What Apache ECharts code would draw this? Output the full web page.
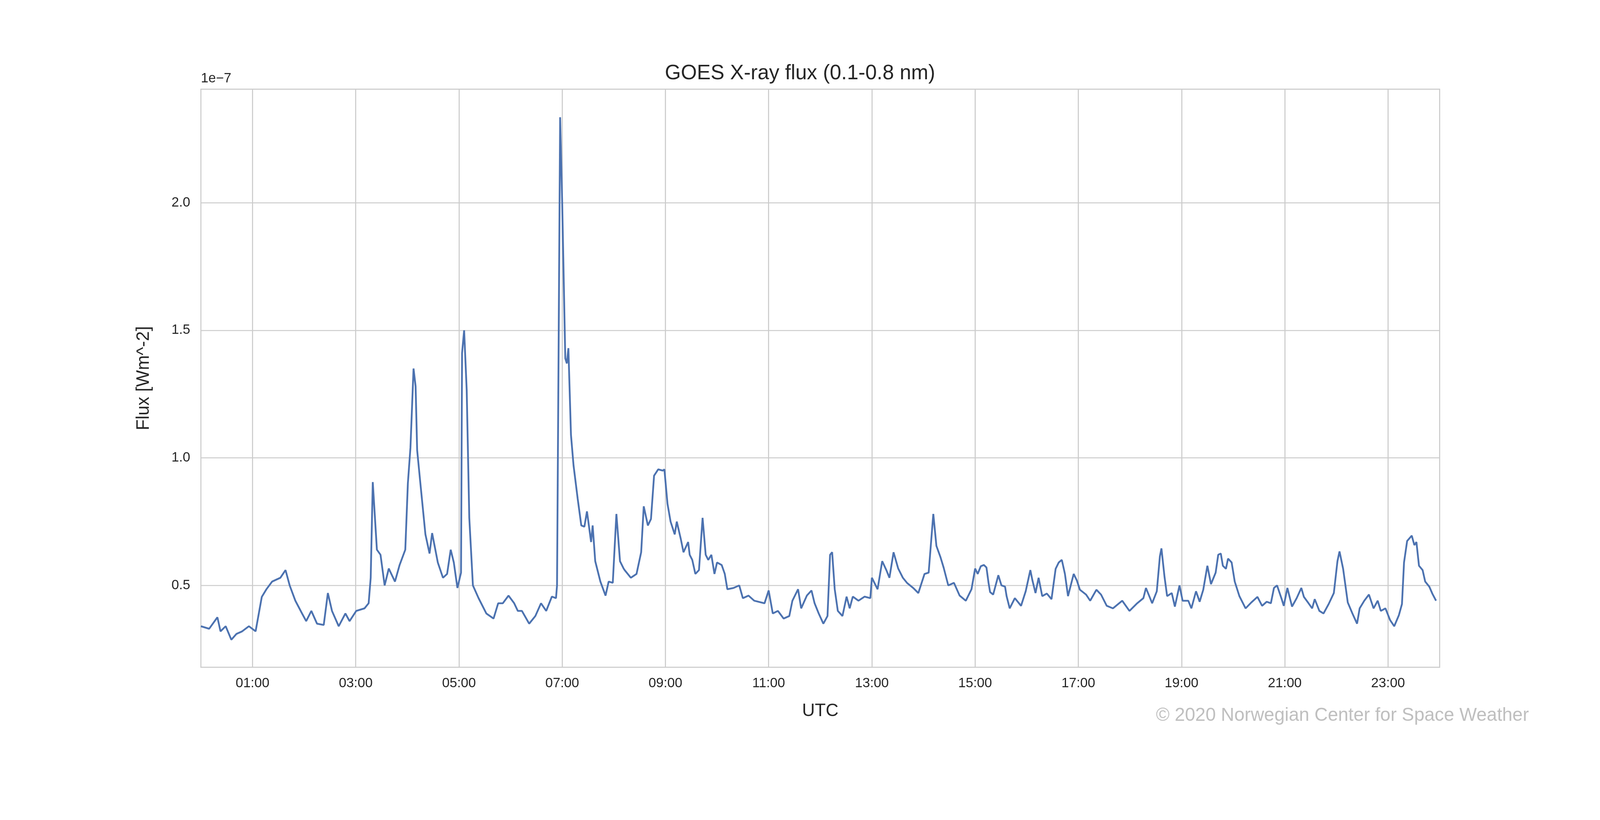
<!DOCTYPE html>
<html><head><meta charset="utf-8">
<script src="https://cdn.jsdelivr.net/npm/echarts@6/dist/echarts.min.js"></script>
<style>html,body{margin:0;padding:0;background:#fff;overflow:hidden}#c{width:4500px;height:2100px}</style>
</head><body><div id="c"></div>
<script>
// Time in hours UTC
const times = [0,0.16,0.32,0.38,0.48,0.59,0.69,0.8,0.93,1.06,1.14,1.18,1.27,1.38,1.54,1.64,1.72,1.83,1.96,2.04,2.14,2.25,2.38,2.46,2.54,2.67,2.8,2.88,3.01,3.17,3.25,3.29,3.33,3.41,3.48,3.56,3.64,3.76,3.85,3.96,4.01,4.06,4.12,4.16,4.19,4.25,4.35,4.43,4.48,4.59,4.69,4.77,4.84,4.9,4.97,5.04,5.06,5.10,5.15,5.2,5.27,5.38,5.53,5.67,5.76,5.85,5.96,6.07,6.14,6.22,6.36,6.48,6.59,6.69,6.8,6.88,6.9,6.93,6.96,7.0,7.06,7.09,7.12,7.17,7.22,7.3,7.37,7.43,7.48,7.56,7.59,7.64,7.74,7.84,7.9,7.98,8.05,8.12,8.19,
8.21,8.33,8.44,8.53,8.58,8.66,8.72,8.78,8.86,8.95,8.98,9.04,9.1,9.18,9.22,9.3,9.35,9.44,9.47,9.52,9.58,9.65,9.72,9.78,9.83,9.89,9.95,10.0,10.09,10.15,10.2,10.32,10.43,10.5,10.61,10.72,10.92,11.0,11.08,11.18,11.29,11.4,11.46,11.57,11.63,11.74,11.83,11.89,11.97,12.06,12.14,12.19,12.23,12.28,12.34,12.43,12.51,12.57,12.63,12.74,12.86,12.97,13.0,13.11,13.2,13.28,13.34,13.42,13.51,13.6,13.68,13.8,13.9,14.02,14.1,14.19,14.25,14.33,14.39,14.48,14.59,14.7,14.82,14.93,
15.0,15.05,15.11,15.17,15.22,15.26,15.29,15.35,15.45,15.51,15.58,15.61,15.67,15.77,15.89,15.98,16.07,16.11,16.17,16.23,16.3,16.39,16.48,16.56,16.62,16.68,16.74,16.8,16.91,16.97,17.03,17.15,17.23,17.35,17.44,17.55,17.67,17.85,17.99,18.14,18.26,18.31,18.43,18.52,18.58,18.61,18.67,18.72,18.81,18.87,18.96,19.02,19.13,19.19,19.28,19.35,19.42,19.5,19.57,19.66,19.71,19.76,19.8,19.86,19.9,19.97,20.03,20.12,20.24,20.35,20.47,20.56,20.65,20.73,20.79,20.85,20.94,20.98,21.05,21.14,21.23,21.32,21.37,21.46,21.53,21.58,21.67,21.75,21.85,21.95,22.02,22.06,22.13,22.22,22.31,22.4,22.45,22.54,22.63,22.72,22.8,22.86,22.95,23.04,23.12,23.21,23.27,23.31,23.37,23.46,23.51,23.55,23.6,23.67,23.72,23.8,23.86,23.93];
// Flux in units of 1e-7 W m^-2
const flux = [0.34,0.33,0.375,0.32,0.34,0.287,0.31,0.32,0.34,0.32,0.41,0.455,0.485,0.515,0.53,0.56,0.5,0.44,0.39,0.36,0.40,0.35,0.345,0.47,0.40,0.34,0.39,0.36,0.40,0.41,0.43,0.53,0.905,0.64,0.62,0.50,0.566,0.515,0.58,0.64,0.90,1.04,1.35,1.28,1.03,0.905,0.70,0.625,0.705,0.59,0.53,0.545,0.64,0.59,0.49,0.55,1.41,1.50,1.265,0.765,0.50,0.45,0.39,0.37,0.43,0.43,0.46,0.43,0.40,0.40,0.35,0.38,0.43,0.40,0.456,0.45,0.50,1.41,2.335,2.0,1.39,1.37,1.43,1.09,0.97,0.84,0.735,0.73,0.79,0.67,0.735,0.595,0.515,0.46,0.515,0.51,0.78,0.595,0.566,
0.56,0.53,0.545,0.63,0.81,0.735,0.76,0.93,0.955,0.95,0.955,0.82,0.75,0.70,0.75,0.68,0.63,0.67,0.62,0.60,0.545,0.56,0.765,0.62,0.60,0.62,0.545,0.59,0.58,0.545,0.485,0.49,0.50,0.45,0.46,0.44,0.43,0.48,0.39,0.40,0.37,0.38,0.44,0.485,0.41,0.46,0.48,0.43,0.39,0.35,0.38,0.62,0.63,0.485,0.40,0.38,0.456,0.41,0.456,0.44,0.456,0.45,0.53,0.485,0.595,0.56,0.53,0.63,0.566,0.53,0.51,0.49,0.47,0.545,0.55,0.78,0.655,0.61,0.57,0.50,0.51,0.46,0.44,0.485,
0.566,0.545,0.575,0.58,0.57,0.51,0.474,0.464,0.54,0.50,0.495,0.458,0.41,0.45,0.42,0.477,0.56,0.52,0.47,0.53,0.458,0.468,0.446,0.565,0.59,0.60,0.545,0.458,0.545,0.52,0.483,0.464,0.44,0.483,0.464,0.42,0.41,0.44,0.40,0.43,0.45,0.49,0.43,0.477,0.614,0.645,0.533,0.458,0.47,0.417,0.50,0.44,0.44,0.41,0.477,0.436,0.483,0.577,0.505,0.55,0.62,0.625,0.577,0.565,0.605,0.59,0.515,0.458,0.41,0.433,0.455,0.42,0.436,0.43,0.49,0.50,0.446,0.42,0.49,0.417,0.45,0.49,0.455,0.43,0.41,0.446,0.40,0.39,0.427,0.47,0.595,0.633,0.565,0.433,0.39,0.35,0.41,0.44,0.464,0.41,0.44,0.40,0.41,0.364,0.34,0.383,0.427,0.59,0.674,0.695,0.658,0.67,0.577,0.56,0.515,0.495,0.467,0.44];
const xTicks = [1,3,5,7,9,11,13,15,17,19,21,23];
const yTicks = [0.5,1.0,1.5,2.0];

const data = times.map((t,i)=>[t,flux[i]]);
const W = window.innerWidth || 4500, H = window.innerHeight || 2100;
const s = Math.min(1, W/4500, H/2100);
const el = document.getElementById('c');
el.style.width = (4500*s)+'px'; el.style.height = (2100*s)+'px';
const F = '"Liberation Sans", Arial, sans-serif';
const k = v => v*s;
const chart = echarts.init(el);
chart.setOption({
  animation:false,
  backgroundColor:'#fff',
  title:{text:'GOES X-ray flux (0.1-0.8 nm)',left:'center',top:k(172),textStyle:{fontFamily:F,fontSize:k(58),fontWeight:'normal',color:'#262626'}},
  grid:{left:k(565),right:k(451),top:k(251),bottom:k(222),show:true,borderColor:'#cccccc',borderWidth:k(3)},
  xAxis:{type:'value',min:0,max:24,name:'UTC',nameLocation:'middle',nameGap:k(98),
    nameTextStyle:{fontFamily:F,fontSize:k(50),color:'#262626'},
    axisLine:{show:false},axisTick:{show:false,customValues:xTicks},
    axisLabel:{customValues:xTicks,fontFamily:F,fontSize:k(38),color:'#262626',margin:k(26),
      formatter:v=>String(v).padStart(2,'0')+':00'},
    splitLine:{show:true,lineStyle:{color:'#cccccc',width:k(3)}}},
  yAxis:{type:'value',min:0.179,max:2.445,name:'Flux [Wm^-2]',nameLocation:'middle',nameGap:k(135),
    nameTextStyle:{fontFamily:F,fontSize:k(50),color:'#262626'},
    axisLine:{show:false},axisTick:{show:false,customValues:yTicks},
    axisLabel:{customValues:yTicks,fontFamily:F,fontSize:k(38),color:'#262626',margin:k(30),formatter:v=>v.toFixed(1)},
    splitLine:{show:true,lineStyle:{color:'#cccccc',width:k(3)}}},
  series:[{type:'line',data:data,showSymbol:false,smooth:false,lineStyle:{color:'#4c72b0',width:k(5)}}],
  graphic:[
    {type:'text',left:k(565),top:k(202),style:{text:'1e\u22127',fontFamily:F,fontSize:k(38),fill:'#262626'}},
    {type:'text',right:k(200),top:k(1988),style:{text:'\u00a9 2020 Norwegian Center for Space Weather',fontFamily:F,fontSize:k(52),fill:'#bfbfbf'}}
  ]
});
</script></body></html>
